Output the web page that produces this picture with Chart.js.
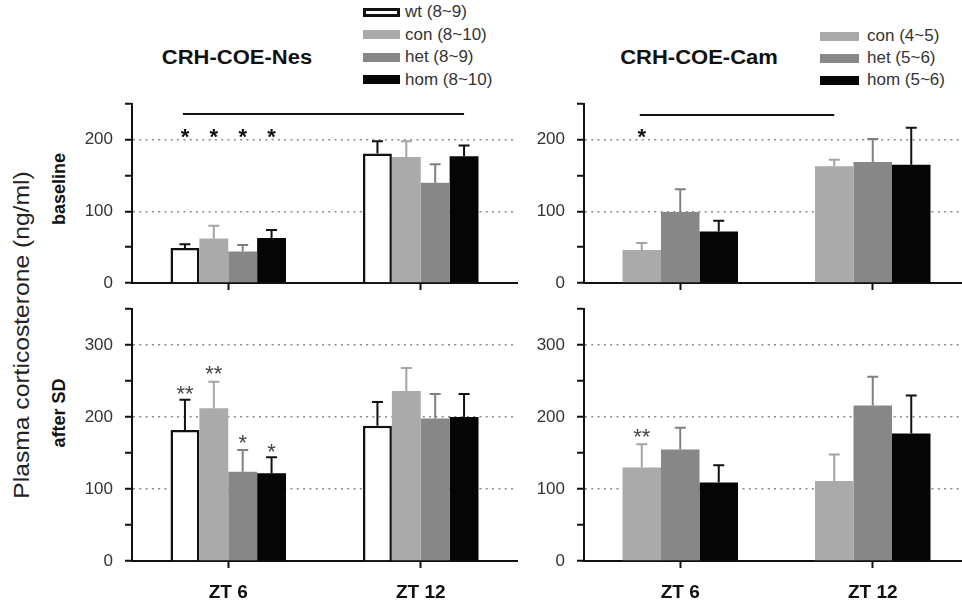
<!DOCTYPE html>
<html>
<head>
<meta charset="utf-8">
<title>Plasma corticosterone</title>
<script src="https://cdn.jsdelivr.net/npm/chart.js@4.4.1/dist/chart.umd.min.js"></script>
<style>
  html, body { margin: 0; padding: 0; overflow: hidden; background: #fff; }
  #fig { position: relative; width: 962px; height: 605px; overflow: hidden;
         font-family: 'Liberation Sans', Arial, sans-serif; color: #111; }
  #fig canvas { position: absolute; }
  .txt { position: absolute; white-space: nowrap; }
  .title { font-size: 20px; font-weight: bold; transform: translate(-50%, -50%) scaleX(1.1); }
  .vert { transform: translate(-50%, -50%) rotate(-90deg); }
  .legend { position: absolute; font-size: 17px; color: #333; }
  .legend .row { display: flex; align-items: center; }
  .legend .box { box-sizing: border-box; }
</style>
</head>
<body>
<div id="fig">
  <div class="txt title" style="left:237px;top:57px">CRH-COE-Nes</div>
  <div class="txt title" style="left:699px;top:57px">CRH-COE-Cam</div>
  <div class="txt vert" style="left:22px;top:335px;font-size:22px;color:#222;transform:translate(-50%,-50%) rotate(-90deg) scaleX(1.12)">Plasma corticosterone (ng/ml)</div>
  <div class="txt vert" style="left:59px;top:189px;font-size:18px;font-weight:bold">baseline</div>
  <div class="txt vert" style="left:59px;top:413px;font-size:18px;font-weight:bold">after SD</div>
  <div class="legend" id="nesLegend" style="left:363px;top:1px"></div>
  <div class="legend" id="camLegend" style="left:820px;top:25px"></div>
  <canvas id="nesBase" width="462" height="223" style="left:60px;top:82px"></canvas>
  <canvas id="nesSd" width="462" height="316" style="left:60px;top:287px"></canvas>
  <canvas id="camBase" width="457" height="223" style="left:512px;top:82px"></canvas>
  <canvas id="camSd" width="457" height="316" style="left:512px;top:287px"></canvas>
</div>
<script>
// time points and groups
const groups = ['ZT 6', 'ZT 12'];
const nesLabels = ['wt (8~9)', 'con (8~10)', 'het (8~9)', 'hom (8~10)'];
const camLabels = ['con (4~5)', 'het (5~6)', 'hom (5~6)'];

// mean and SEM per group, each as [ZT 6, ZT 12]
const nesBaseMean = [[49, 181], [62, 176], [44, 140], [63, 177]];
const nesBaseErr  = [[5, 17], [18, 22], [9, 26], [11, 15]];
const nesSdMean   = [[182, 188], [212, 236], [124, 198], [122, 200]];
const nesSdErr    = [[42, 33], [37, 32], [30, 34], [22, 32]];
const camBaseMean = [[46, 163], [99, 169], [72, 165]];
const camBaseErr  = [[10, 9], [32, 32], [15, 52]];
const camSdMean   = [[130, 111], [155, 216], [109, 177]];
const camSdErr    = [[32, 37], [30, 40], [24, 53]];

// y axes: labelled ticks, minor tick every 50
const baseTicks = [0, 100, 200];
const sdTicks = [0, 100, 200, 300];
const baseMax = 250;
const sdMax = 350;

// significance marks: [group index, time index, height, text]
const nesBaseStars = [[0, 0, 213, '*'], [1, 0, 213, '*'], [2, 0, 213, '*'], [3, 0, 213, '*']];
const nesSdStars   = [[0, 0, 241, '**'], [1, 0, 268, '**'], [2, 0, 173, '*'], [3, 0, 160, '*']];
const camBaseStars = [[0, 0, 212, '*']];
const camSdStars   = [[0, 0, 181, '**']];
// ZT 6 vs ZT 12 bracket: from [group, time] to [group, time] at height
const nesBracket = { from: [0, 0], to: [3, 1], at: 236 };
const camBracket = { from: [0, 0], to: [0, 1], at: 235 };

// looks
const white = { fill: '#ffffff', border: '#111111', width: 2.5, err: '#111111' };
const light = { fill: '#aaaaaa', border: '#aaaaaa', width: 0, err: '#a4a4a4' };
const mid   = { fill: '#878787', border: '#878787', width: 0, err: '#808080' };
const dark  = { fill: '#050505', border: '#050505', width: 0, err: '#111111' };
const nesLook = [white, light, mid, dark];
const camLook = [light, mid, dark];

Chart.defaults.font.family = "'Liberation Sans', Arial, sans-serif";

function buildLegend(el, labels, looks, boxW, boxH, gap, rowH) {
  labels.forEach((label, i) => {
    const row = document.createElement('div');
    row.className = 'row';
    row.style.height = rowH + 'px';
    const box = document.createElement('div');
    box.className = 'box';
    box.style.cssText = `width:${boxW}px;height:${boxH}px;background:${looks[i].fill};` +
      `border:${Math.round(looks[i].width)}px solid ${looks[i].border};margin-right:${gap}px`;
    const t = document.createElement('span');
    t.textContent = label;
    row.append(box, t);
    el.appendChild(row);
  });
}

// upward-only error bars with caps
const errorBars = {
  id: 'errorBars',
  afterDatasetsDraw(chart) {
    const { ctx } = chart;
    const y = chart.scales.y;
    chart.data.datasets.forEach((ds, i) => {
      chart.getDatasetMeta(i).data.forEach((bar, j) => {
        const top = y.getPixelForValue(ds.data[j] + ds.errors[j]);
        ctx.save();
        ctx.strokeStyle = ds.errorColor;
        ctx.lineWidth = 2;
        ctx.beginPath();
        ctx.moveTo(bar.x, bar.y);
        ctx.lineTo(bar.x, top);
        ctx.moveTo(bar.x - 5.5, top);
        ctx.lineTo(bar.x + 5.5, top);
        ctx.stroke();
        ctx.restore();
      });
    });
  },
};

// stars and the ZT bracket
const marks = {
  id: 'marks',
  afterDatasetsDraw(chart, args, opts) {
    const { ctx } = chart;
    const y = chart.scales.y;
    const barX = (s, g) => chart.getDatasetMeta(s).data[g].x;
    ctx.save();
    if (opts.bracket) {
      const b = opts.bracket;
      const py = Math.round(y.getPixelForValue(b.at));
      ctx.strokeStyle = '#111';
      ctx.lineWidth = 2;
      ctx.beginPath();
      ctx.moveTo(barX(...b.from) - 2, py);
      ctx.lineTo(barX(...b.to), py);
      ctx.stroke();
    }
    ctx.font = opts.starFont;
    ctx.fillStyle = opts.starColor;
    ctx.textAlign = 'center';
    ctx.textBaseline = 'alphabetic';
    (opts.stars || []).forEach(([s, g, at, text]) => {
      ctx.fillText(text, barX(s, g), y.getPixelForValue(at) + opts.starSize * 0.6);
    });
    ctx.restore();
  },
};

function makePanel(id, cfg) {
  const datasets = cfg.labels.map((label, i) => ({
    label,
    data: cfg.means[i],
    errors: cfg.errs[i],
    errorColor: cfg.looks[i].err,
    backgroundColor: cfg.looks[i].fill,
    borderColor: cfg.looks[i].border,
    borderWidth: cfg.looks[i].width,
    borderSkipped: 'start',
    barPercentage: 1,
    categoryPercentage: 0.6,
  }));

  // eslint-disable-next-line no-undef
  new Chart(document.getElementById(id).getContext('2d'), {
    type: 'bar',
    data: { labels: groups, datasets },
    plugins: [errorBars, marks],
    options: {
      responsive: false,
      animation: false,
      // y tick labels add 10 + 12 px above and below the plot area
      layout: { padding: { top: 0, right: cfg.padRight, bottom: 0, left: 0 } },
      scales: {
        x: {
          afterFit: (s) => { s.height = cfg.showX ? 42 : 10; },
          grid: { drawOnChartArea: false, offset: false, tickLength: 7, tickColor: '#111', tickWidth: 2 },
          border: { color: '#111', width: 2 },
          ticks: {
            display: cfg.showX,
            color: '#111',
            padding: 13,
            font: { size: 19, weight: 'bold' },
          },
        },
        y: {
          min: 0,
          max: cfg.max,
          afterFit: (s) => { s.width = 72; },
          grid: {
            color: (c) => (c.tick && c.tick.value > 0 && c.tick.value % 100 === 0 ? '#8a8a8a' : 'rgba(0,0,0,0)'),
            lineWidth: 1.5,
            tickLength: 7,
            tickColor: '#111',
            tickWidth: 2,
          },
          border: { color: '#111', width: 2, dash: [2, 4.3] },
          ticks: {
            stepSize: 50,
            color: '#333',
            padding: 12,
            font: { size: 17, lineHeight: '20px' },
            callback: (v) => (cfg.shown.includes(v) ? String(v) : ''),
          },
        },
      },
      plugins: {
        legend: { display: false },
        tooltip: { enabled: false },
        marks: {
          stars: cfg.stars,
          bracket: cfg.bracket,
          starFont: cfg.starFont,
          starSize: cfg.starSize,
          starColor: cfg.starColor,
        },
      },
    },
  });
}

document.addEventListener('DOMContentLoaded', () => {
  buildLegend(document.getElementById('nesLegend'), nesLabels, nesLook, 37, 9, 5, 22.5);
  buildLegend(document.getElementById('camLegend'), camLabels, camLook, 39, 9, 8, 22);

  const boldStar = { starFont: 'bold 22px "Liberation Sans", Arial', starSize: 22, starColor: '#111' };
  const greyStar = { starFont: '22px "Liberation Sans", Arial', starSize: 22, starColor: '#444' };

  makePanel('nesBase', Object.assign({
    labels: nesLabels, means: nesBaseMean, errs: nesBaseErr, looks: nesLook,
    max: baseMax, shown: baseTicks, showX: false, padRight: 5,
    stars: nesBaseStars, bracket: nesBracket,
  }, boldStar));
  makePanel('nesSd', Object.assign({
    labels: nesLabels, means: nesSdMean, errs: nesSdErr, looks: nesLook,
    max: sdMax, shown: sdTicks, showX: true, padRight: 5,
    stars: nesSdStars, bracket: null,
  }, greyStar));
  makePanel('camBase', Object.assign({
    labels: camLabels, means: camBaseMean, errs: camBaseErr, looks: camLook,
    max: baseMax, shown: baseTicks, showX: false, padRight: 0,
    stars: camBaseStars, bracket: camBracket,
  }, boldStar));
  makePanel('camSd', Object.assign({
    labels: camLabels, means: camSdMean, errs: camSdErr, looks: camLook,
    max: sdMax, shown: sdTicks, showX: true, padRight: 0,
    stars: camSdStars, bracket: null,
  }, greyStar));
});
</script>
</body>
</html>
